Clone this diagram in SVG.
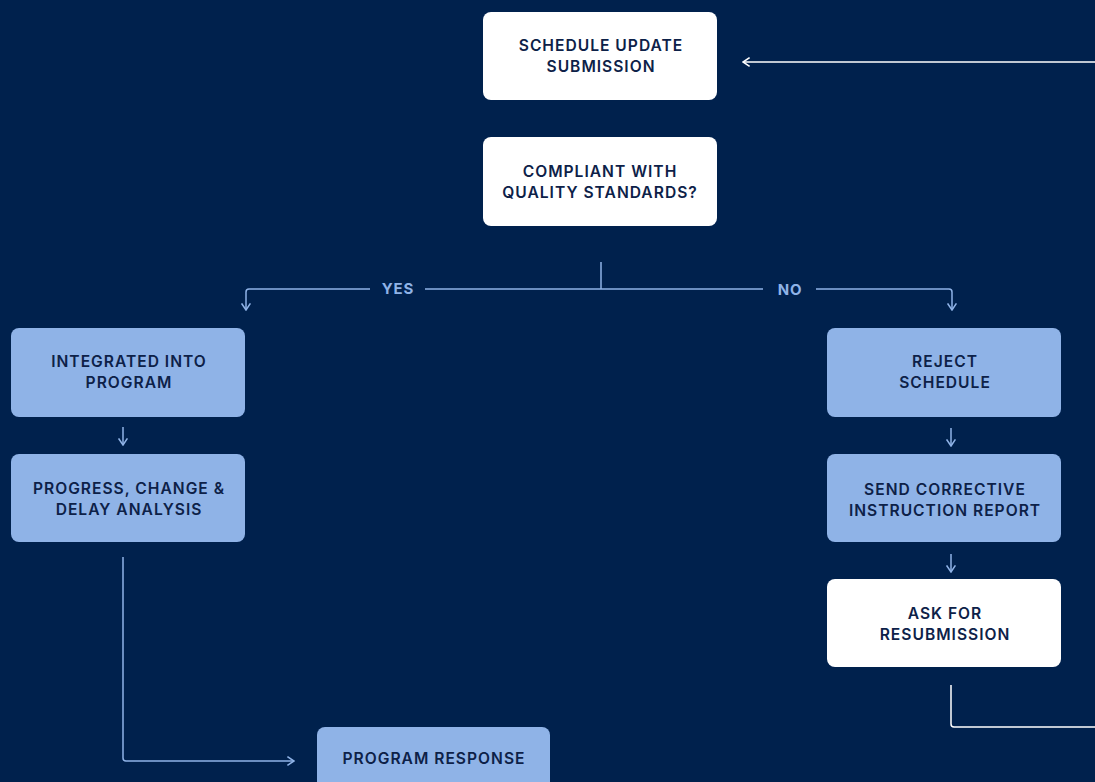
<svg xmlns="http://www.w3.org/2000/svg" width="1095" height="782" viewBox="0 0 1095 782">
<style>
.bw{fill:#ffffff}
.bb{fill:#8fb3e7}
.t{font-family:Inter,"Liberation Sans",sans-serif;font-size:15.6px;font-weight:600;fill:#0d2148;text-anchor:middle;letter-spacing:1px}
.lbl{font-family:Inter,"Liberation Sans",sans-serif;font-size:15px;font-weight:700;fill:#8fb3e7;text-anchor:middle;letter-spacing:0.8px}
.cb{fill:none;stroke:#8fb3e7;stroke-width:1.5}
.cw{fill:none;stroke:#ffffff;stroke-width:1.5}
</style>
<defs>
<marker id="ab" viewBox="0 0 10 10" refX="9" refY="5" markerWidth="11" markerHeight="11" markerUnits="userSpaceOnUse" orient="auto">
<path d="M3,1 L9,5 L3,9" fill="none" stroke="#8fb3e7" stroke-width="1.4"/>
</marker>
<marker id="aw" viewBox="0 0 10 10" refX="9" refY="5" markerWidth="11" markerHeight="11" markerUnits="userSpaceOnUse" orient="auto">
<path d="M3,1 L9,5 L3,9" fill="none" stroke="#ffffff" stroke-width="1.4"/>
</marker>
</defs>
<rect width="1095" height="782" fill="#00214d"/>
<g id="connectors">
<path class="cb" d="M601,262 V289"/>
<path class="cb" d="M370,289 H249 Q246,289 246,292 V310" marker-end="url(#ab)"/>
<path class="cb" d="M425,289 H763"/>
<path class="cb" d="M816,289 H949 Q952,289 952,292 V310" marker-end="url(#ab)"/>
<path class="cb" d="M123,427 V445" marker-end="url(#ab)"/>
<path class="cb" d="M951,428 V446" marker-end="url(#ab)"/>
<path class="cb" d="M951,554 V572" marker-end="url(#ab)"/>
<path class="cb" d="M123,557 V758 Q123,761 126,761 H294" marker-end="url(#ab)"/>
<path class="cw" d="M951,685 V724 Q951,727 954,727 H1095"/>
<path class="cw" d="M1095,62 H743" marker-end="url(#aw)"/>
<text class="lbl" x="398" y="294">YES</text>
<text class="lbl" x="790" y="295">NO</text>
</g>
<g id="n1"><rect class="bw" x="483" y="12" width="234" height="88" rx="8"/><text class="t" x="601" y="51">SCHEDULE UPDATE</text><text class="t" x="601" y="72">SUBMISSION</text></g>
<g id="n2"><rect class="bw" x="483" y="137" width="234" height="89" rx="8"/><text class="t" x="600" y="177">COMPLIANT WITH</text><text class="t" x="600" y="198">QUALITY STANDARDS?</text></g>
<g id="n3"><rect class="bb" x="11" y="328" width="234" height="89" rx="8"/><text class="t" x="129" y="367">INTEGRATED INTO</text><text class="t" x="129" y="388">PROGRAM</text></g>
<g id="n4"><rect class="bb" x="11" y="454" width="234" height="88" rx="8"/><text class="t" x="129" y="494">PROGRESS, CHANGE &amp;</text><text class="t" x="129" y="515">DELAY ANALYSIS</text></g>
<g id="n5"><rect class="bb" x="827" y="328" width="234" height="89" rx="8"/><text class="t" x="945" y="367">REJECT</text><text class="t" x="945" y="388">SCHEDULE</text></g>
<g id="n6"><rect class="bb" x="827" y="454" width="234" height="88" rx="8"/><text class="t" x="945" y="495">SEND CORRECTIVE</text><text class="t" x="945" y="516">INSTRUCTION REPORT</text></g>
<g id="n7"><rect class="bw" x="827" y="579" width="234" height="88" rx="8"/><text class="t" x="945" y="619">ASK FOR</text><text class="t" x="945" y="640">RESUBMISSION</text></g>
<g id="n8"><rect class="bb" x="317" y="727" width="233" height="80" rx="8"/><text class="t" x="434" y="764">PROGRAM RESPONSE</text></g>
</svg>
